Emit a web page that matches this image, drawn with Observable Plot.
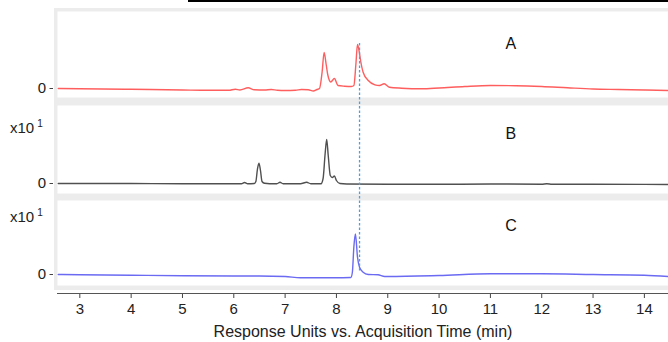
<!DOCTYPE html>
<html><head><meta charset="utf-8">
<script src="https://cdn.jsdelivr.net/npm/d3@7"></script>
<script src="https://cdn.jsdelivr.net/npm/@observablehq/plot@0.6"></script>
<style>
html,body{margin:0;padding:0;background:#fff;}
#chart{position:relative;width:668px;height:342px;overflow:hidden;font-family:"Liberation Sans",Arial,sans-serif;}
#chart > *{position:absolute;}
.frame{left:54px;top:8px;width:614px;height:282px;background:#ececec;}
.topline{left:188px;top:0;width:480px;height:2px;background:#000;}
.mult{left:10px;font-size:15px;line-height:15px;color:#222;white-space:nowrap;}
.mult sup{font-size:10px;line-height:10px;vertical-align:0;position:relative;top:-6px;margin-left:3px;}
</style></head>
<body><div id="chart"><div class="topline"></div><div class="frame"></div></div>
<script>
// ---- data (response in arbitrary units, time in minutes) ----
const timeA = [2.58,3.0,4.0,5.0,5.5,5.9,6.03,6.12,6.28,6.4,6.6,6.73,6.85,7.0,7.2,7.32,7.45,7.55,7.62,7.67,7.72,7.76,7.8,7.83,7.89,7.96,8.03,8.16,8.29,8.34,8.38,8.41,8.44,8.47,8.52,8.62,8.75,8.84,8.93,9.03,9.27,9.66,10.0,10.5,11.0,11.5,12.0,12.5,13.0,13.5,14.0,14.48];
const respA = [0.0,-0.03,-0.08,-0.15,-0.18,-0.18,-0.07,-0.15,0.07,-0.13,-0.15,-0.1,-0.18,-0.2,-0.18,-0.1,-0.12,-0.25,-0.1,0.0,1.6,3.6,2.4,1.4,0.65,1.0,0.3,0.23,0.2,0.3,2.5,4.4,3.8,2.8,1.63,0.8,0.37,0.3,0.47,0.13,0.03,-0.03,0.05,0.2,0.3,0.28,0.2,0.07,-0.05,-0.1,-0.15,-0.2];

const timeB = [2.58,3.0,4.0,5.0,6.0,6.15,6.21,6.27,6.4,6.43,6.46,6.49,6.52,6.55,6.6,6.7,6.84,6.9,6.96,7.3,7.42,7.5,7.7,7.74,7.78,7.81,7.84,7.88,7.92,7.96,8.0,8.07,8.2,9.0,10.0,11.0,12.0,12.1,12.2,13.0,14.0,14.48];
const respB = [0.0,0.0,0.0,-0.03,-0.03,-0.02,0.1,-0.02,0.0,0.2,1.4,2.03,1.3,0.2,0.02,-0.02,-0.02,0.12,-0.02,-0.02,0.12,-0.02,-0.02,0.5,3.0,4.4,2.8,0.8,0.6,0.75,0.3,0.0,-0.05,-0.08,-0.08,-0.05,-0.07,-0.03,-0.07,-0.08,-0.09,-0.1];

const timeC = [2.58,3.0,4.0,5.0,6.0,6.5,7.0,7.3,7.97,8.28,8.31,8.34,8.37,8.41,8.45,8.52,8.62,8.81,8.94,9.0,10.0,11.0,12.0,13.0,14.0,14.48];
const respC = [0.0,-0.02,-0.07,-0.13,-0.15,-0.15,-0.2,-0.33,-0.33,-0.3,0.2,2.8,4.05,1.75,0.73,0.23,0.0,-0.03,-0.2,-0.2,-0.1,0.07,0.07,0.0,-0.07,-0.2];

const panelNames = ["A","B","C"];
const xTicks = [3,4,5,6,7,8,9,10,11,12,13,14];
const axisTitle = "Response Units vs. Acquisition Time (min)";
const markerTime = 8.45;

// ---- layout ----
const FONT = '"Liberation Sans", Arial, sans-serif';
const W = 668, ML = 57;
const xDomain = [2.565, 14.47];
const chart = document.getElementById("chart");

function panel({times, values, color, name, domain, height, top, labelDy}) {
  const data = times.map((t, i) => ({t, v: values[i]}));
  const p = Plot.plot({
    width: W, height, marginLeft: ML, marginRight: 0, marginTop: 0, marginBottom: 0,
    style: {background: "transparent", fontFamily: FONT, color: "#222", overflow: "visible"},
    x: {domain: xDomain, axis: null},
    y: {domain, axis: null},
    marks: [
      Plot.frame({fill: "white", stroke: "none"}),
      Plot.axisY({ticks: [0], tickSize: 3.5, tickPadding: 4, dx: -4, fontSize: 15, label: null, stroke: "#444"}),
      Plot.line(data, {x: "t", y: "v", stroke: color, strokeWidth: 1.4, curve: "monotone-x"}),
      Plot.text([name], {x: () => 11.4, frameAnchor: "top", lineAnchor: "middle", dy: labelDy, text: d => d, fontSize: 16, fill: "#111"})
    ]
  });
  p.style.left = "0px";
  p.style.top = top + "px";
  chart.append(p);
  return p;
}

const pA = panel({times: timeA, values: respA, color: "#ff5e5e", name: panelNames[0], domain: [-0.9, 7.7], height: 86, top: 11, labelDy: 32});
const pB = panel({times: timeB, values: respB, color: "#505050", name: panelNames[1], domain: [-1.0, 7.8], height: 88, top: 105, labelDy: 28});
const pC = panel({times: timeC, values: respC, color: "#6a6af2", name: panelNames[2], domain: [-1.1, 7.4], height: 85, top: 200, labelDy: 25});

// multiplier labels
for (const top of [119.6, 209.3]) {
  const s = document.createElement("div");
  s.className = "mult";
  s.style.top = top + "px";
  s.innerHTML = "x10<sup>1</sup>";
  chart.append(s);
}

// x axis
const ax = Plot.plot({
  width: W, height: 51, marginLeft: ML, marginRight: 0, marginTop: 2, marginBottom: 48,
  style: {background: "transparent", fontFamily: FONT, color: "#222"},
  x: {domain: xDomain, axis: null},
  y: {axis: null},
  marks: [
    Plot.frame({anchor: "top", stroke: "#555"}),
    Plot.axisX({ticks: xTicks, tickSize: 4, tickPadding: 5, fontSize: 15, label: null, stroke: "#444"}),
    Plot.text([axisTitle], {frameAnchor: "bottom", lineAnchor: "middle", dy: 37, text: d => d, fontSize: 16, fill: "#222"})
  ]
});
ax.style.left = "0px"; ax.style.top = "291px";
chart.append(ax);

// dashed marker across panels, positioned through the panels' own y scales
function yOf(p, v, fallbackDomain, h) {
  const s = p.scale("y");
  if (s && typeof s.apply === "function") return s.apply(v);
  return d3.scaleLinear(fallbackDomain, [h, 0])(v);
}
const yTop = 11 + yOf(pA, d3.max(respA) + 0.1, [-0.9, 7.7], 86);
const yBot = 200 + yOf(pC, 0.25, [-1.1, 7.4], 85);
const ov = Plot.plot({
  width: W, height: 342, marginLeft: ML, marginRight: 0, marginTop: 0, marginBottom: 0,
  style: {background: "transparent", pointerEvents: "none"},
  x: {domain: xDomain, axis: null},
  y: {type: "identity", axis: null},
  marks: [
    Plot.ruleX([markerTime], {y1: () => yTop, y2: () => yBot, stroke: "#4a9fe4", strokeWidth: 1.3, strokeDasharray: "2.5,2"})
  ]
});
ov.style.left = "0px"; ov.style.top = "0px";
chart.append(ov);
</script>
</body></html>
